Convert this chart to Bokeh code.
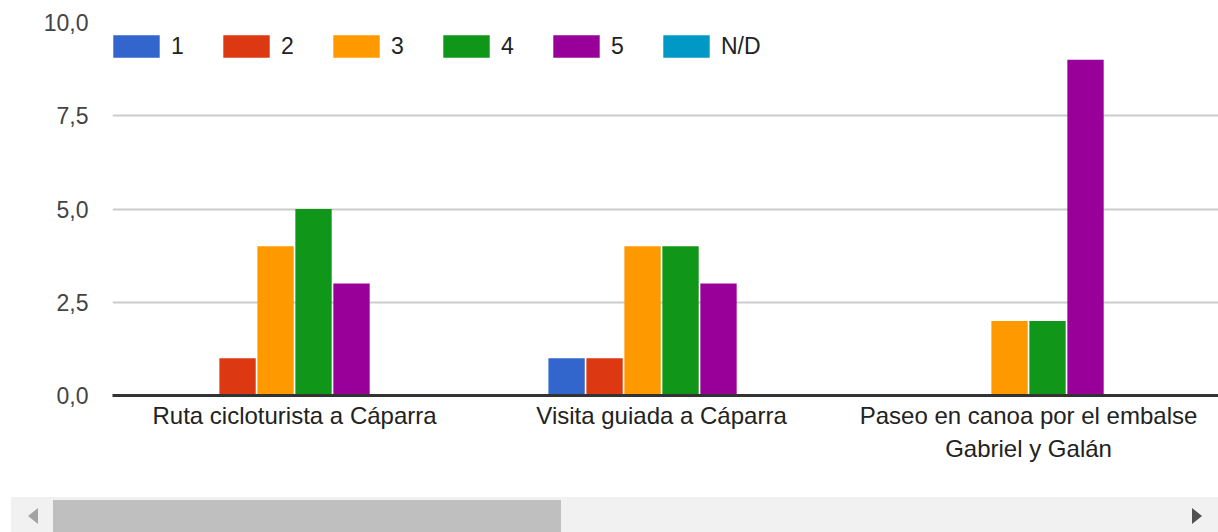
from bokeh.plotting import figure
from bokeh.models import FixedTicker, Range1d, Div, ColumnDataSource
from bokeh.layouts import column
from bokeh.transform import dodge
from bokeh.embed import file_html
from bokeh.resources import INLINE

categories = ["Ruta cicloturista a Cáparra", "Visita guiada a Cáparra",
              "Paseo en canoa por el embalse\nGabriel y Galán"]
series_names = ["1", "2", "3", "4", "5", "N/D"]
s1 = [0, 1, 0]
s2 = [1, 1, 0]
s3 = [4, 4, 2]
s4 = [5, 4, 2]
s5 = [3, 3, 9]
snd = [0, 0, 0]
colors = ["#3366cc", "#dc3912", "#ff9900", "#109618", "#990099", "#0099c6"]
y_ticks = [0, 2.5, 5, 7.5, 10]
y_tick_labels = ["0,0", "2,5", "5,0", "7,5", "10,0"]

values = [s1, s2, s3, s4, s5, snd]
cat_pos = [i + 0.5 for i in range(len(categories))]
data = {"x": cat_pos}
for name, vals in zip(series_names, values):
    data["s" + name.replace("/", "")] = vals
src = ColumnDataSource(data)

FONT = "Liberation Sans"

p = figure(x_range=Range1d(0.004, 3.0176), y_range=Range1d(0, 10),
           width=1218, height=492, output_backend="svg", toolbar_location=None,
           min_border_left=112, min_border_right=0, min_border_top=22, min_border_bottom=97)
p.outline_line_color = None

slot = 0.1035
for i, (name, col) in enumerate(zip(series_names, colors)):
    off = (i - 2.5) * slot
    p.vbar(x=dodge("x", off), top="s" + name.replace("/", ""), width=0.099,
           source=src, fill_color=col, line_color=None, legend_label=name)

p.yaxis.ticker = FixedTicker(ticks=y_ticks)
p.yaxis.major_label_overrides = {t: l for t, l in zip(y_ticks, y_tick_labels)}
p.yaxis.axis_line_color = None
p.yaxis.major_tick_line_color = None
p.yaxis.minor_tick_line_color = None
p.yaxis.major_tick_out = 0
p.yaxis.major_label_standoff = 24
p.yaxis.major_label_text_font = FONT
p.yaxis.major_label_text_font_size = "23px"
p.yaxis.major_label_text_color = "#444444"

p.xaxis.ticker = FixedTicker(ticks=cat_pos)
p.xaxis.major_label_overrides = {t: l for t, l in zip(cat_pos, categories)}
p.xaxis.axis_line_color = "#333333"
p.xaxis.axis_line_width = 3
p.xaxis.major_tick_line_color = None
p.xaxis.minor_tick_line_color = None
p.xaxis.major_tick_out = 0
p.xaxis.major_label_standoff = 6
p.xaxis.major_label_text_font = FONT
p.xaxis.major_label_text_font_size = "24px"
p.xaxis.major_label_text_color = "#222222"
p.xaxis.major_label_text_line_height = 1.25
p.xaxis.major_label_orientation = "horizontal"

p.xgrid.grid_line_color = None
p.ygrid.grid_line_color = "#cccccc"
p.ygrid.grid_line_width = 2

leg = p.legend[0]
leg.orientation = "horizontal"
leg.location = (-5, 335)
leg.margin = 0
leg.padding = 0
leg.spacing = 6
leg.glyph_width = 58
leg.glyph_height = 28
leg.label_standoff = 6
leg.label_width = 40
leg.label_text_font = FONT
leg.label_text_font_size = "23px"
leg.label_text_color = "#222222"
leg.background_fill_alpha = 0
leg.border_line_color = None

scroll = Div(width=1218, height=40, text="""
<div style="position:relative;width:1207px;height:40px;margin-left:6px;background:#f1f1f1;">
  <div style="position:absolute;left:42px;top:3px;width:508px;height:37px;background:#bfbfbf;"></div>
  <div style="position:absolute;left:17px;top:11px;width:0;height:0;border-top:8.5px solid transparent;border-bottom:8.5px solid transparent;border-right:10px solid #a3a3a3;"></div>
  <div style="position:absolute;left:1181px;top:11px;width:0;height:0;border-top:8.5px solid transparent;border-bottom:8.5px solid transparent;border-left:10px solid #505050;"></div>
</div>
""")

layout = column(p, scroll, spacing=0)
open("out.html", "w").write(file_html(layout, INLINE))
